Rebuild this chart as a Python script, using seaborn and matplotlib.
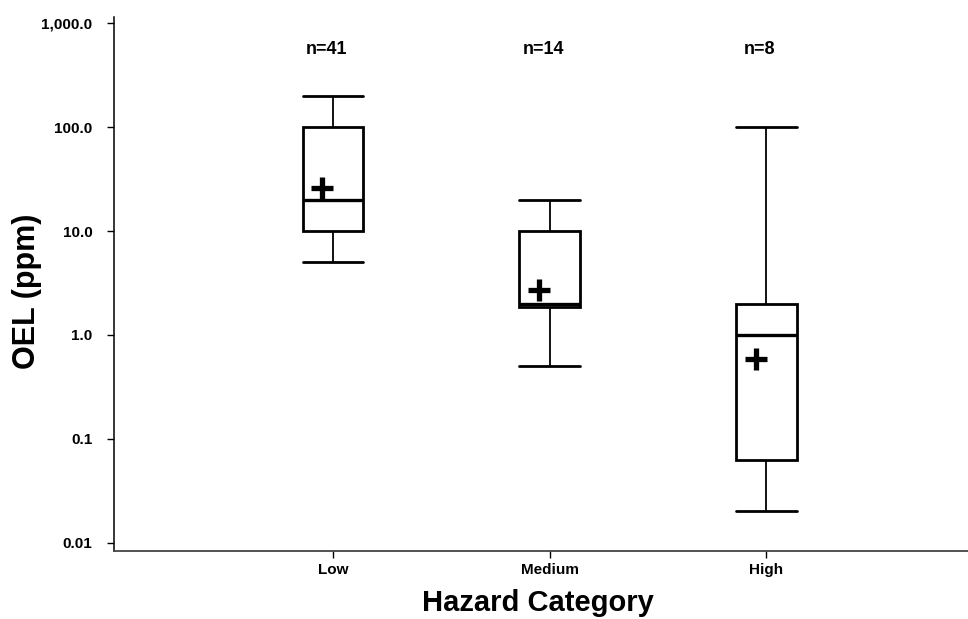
import numpy as np
import pandas as pd
import seaborn as sns
import matplotlib
matplotlib.use("Agg")
import matplotlib.pyplot as plt
import matplotlib.transforms as mtransforms

# summary values (min, q1, median, q3, max) + mean and n
categories = ["Low", "Medium", "High"]
n_counts = [41, 14, 8]
whisker_low = [5.0, 0.5, 0.02]
q1 = [10.0, 1.85, 0.063]
median = [20.0, 2.0, 1.0]
q3 = [100.0, 10.0, 2.0]
whisker_high = [200.0, 20.0, 100.0]
means = [25.8, 2.7, 0.59]

ytick_vals = [0.01, 0.1, 1, 10, 100, 1000]
ytick_labels = ["0.01", "0.1", "1.0", "10.0", "100.0", "1,000.0"]

#-----------------------------------------------------------------------------#
rows = []
for i, cat in enumerate(categories):
    for v in [whisker_low[i], q1[i], median[i], q3[i], whisker_high[i]]:
        rows.append({"Hazard Category": cat, "OEL": v})
df = pd.DataFrame(rows)

sns.set_style("white")
plt.rcParams["font.family"] = ["Liberation Sans", "DejaVu Sans"]
plt.rcParams["font.weight"] = "bold"
plt.rcParams["text.color"] = "black"
plt.rcParams["xtick.color"] = "black"
plt.rcParams["ytick.color"] = "black"

fig = plt.figure(figsize=(9.68, 6.19), dpi=100)
ax = fig.add_axes([0.1178, 0.1103, 0.8822, 0.8627])

box_w = 0.28
sns.boxplot(data=df, x="Hazard Category", y="OEL", order=categories,
            whis=(0, 100), width=box_w, log_scale=True,
            color="white", linecolor="black", showfliers=False, ax=ax,
            boxprops=dict(linewidth=2.0),
            whiskerprops=dict(linewidth=1.3),
            capprops=dict(linewidth=2.0),
            medianprops=dict(linewidth=2.4, color="black"))

# caps as wide as the box
for line in ax.lines:
    xd = line.get_xdata()
    yd = line.get_ydata()
    if len(xd) == 2 and yd[0] == yd[1] and xd[0] != xd[1]:
        c = (xd[0] + xd[1]) / 2
        line.set_xdata([c - box_w / 2, c + box_w / 2])

# means
x = np.arange(len(categories))
ax.plot(x - 0.05, means, ls="none", marker="+", markersize=16,
        markeredgewidth=3.8, color="black", zorder=5)

# n labels
trans = mtransforms.blended_transform_factory(ax.transData, ax.transAxes)
for i, n in enumerate(n_counts):
    ax.text(x[i] - 0.03, 0.9395, f"n={n}", transform=trans, ha="center",
            va="center", fontsize=13, fontweight="bold", color="black")

ax.set_yscale("log")
ax.set_ylim(0.00838, 1157)
ax.set_xlim(-1.01, 2.93)
ax.set_yticks(ytick_vals)
ax.set_yticklabels(ytick_labels)
ax.minorticks_off()
ax.set_xticks(x)
ax.set_xticklabels(categories)
ax.tick_params(axis="both", direction="out", length=5, width=1, color="black",
               labelsize=11, labelcolor="black", left=True, bottom=True)
ax.tick_params(axis="y", pad=10.5)
ax.tick_params(axis="x", pad=4)
for lab in ax.get_xticklabels() + ax.get_yticklabels():
    lab.set_fontweight("bold")

ax.set_xlabel("")
ax.set_ylabel("")
for s in ["top", "right"]:
    ax.spines[s].set_visible(False)
ax.spines["left"].set_color("black")
ax.spines["bottom"].set_color("#444444")
ax.spines["left"].set_linewidth(1.1)
ax.spines["bottom"].set_linewidth(1.3)

fig.text(27 / 968, 0.5299, "OEL (ppm)", rotation=90, ha="center", va="center",
         fontsize=22, fontweight="bold", color="black")
fig.text(538 / 968, 0.013, "Hazard Category", ha="center", va="baseline",
         fontsize=21, fontweight="bold", color="black")

fig.savefig("out.png", dpi=100)
